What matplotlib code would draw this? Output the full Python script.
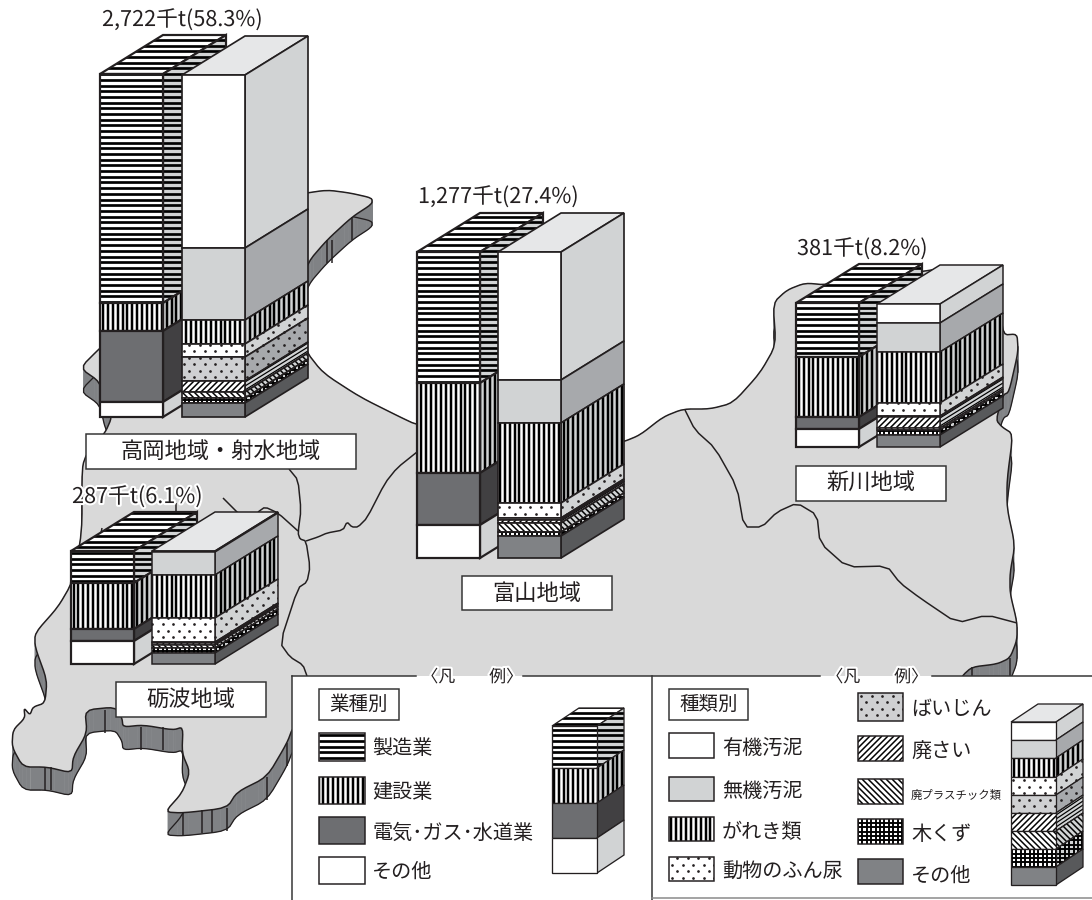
import itertools

import matplotlib
matplotlib.use('Agg')
import matplotlib.pyplot as plt
import matplotlib.patheffects as pe
import numpy as np
from matplotlib.collections import LineCollection, PolyCollection
from matplotlib.patches import Polygon, Rectangle

plt.rcParams['font.family'] = ['Noto Sans CJK JP', 'DejaVu Sans']

# ---- data: segment heights, top segment first ----
industries = ['製造業', '建設業', '電気･ガス･水道業', 'その他']
waste_types = ['有機汚泥', '無機汚泥', 'がれき類', '動物のふん尿', 'ばいじん',
               '廃さい', '廃プラスチック類', '木くず', 'その他']

takaoka_industry = [229, 28, 71, 15]
takaoka_type = [173, 72, 24, 13, 24, 11, 6, 5, 14]
toyama_industry = [131, 90, 52, 33]
toyama_type = [128, 43, 80, 15, 2, 3, 9, 4, 22]
shinkawa_industry = [54, 60, 12, 18]
shinkawa_type = [19, 29, 51, 13, 1, 11, 2, 5, 12]
tonami_industry = [32, 46, 12, 23]
tonami_type = [1, 23, 43, 24, 1, 2, 3, 5, 11]
legend_industry = [42, 35, 35, 35]
legend_type = [18, 18, 19, 18, 18, 18, 18, 18, 18]

region_labels = ['高岡地域・射水地域', '富山地域', '新川地域', '砺波地域']
amount_labels = ['2,722千t(58.3%)', '1,277千t(27.4%)', '381千t(8.2%)', '287千t(6.1%)']

# ---- colours ----
INK = '#231f20'
MAP_TOP = '#d9d9d9'
MAP_SIDE = '#808285'
WHITE = '#ffffff'
LIGHT = '#d1d3d4'
TOP_LIGHT = '#e6e7e8'

# front colour, side colour, front pattern, side pattern
industry_style = [(WHITE, LIGHT, 'h', 'h'), (WHITE, LIGHT, 'v', 'v'),
                  ('#6d6e71', '#414042', None, None), (WHITE, LIGHT, None, None)]
type_style = [(WHITE, LIGHT, None, None), (LIGHT, '#a7a9ac', None, None), (WHITE, LIGHT, 'v', 'v'),
              (WHITE, LIGHT, 'd', 'd'), ('#cfd0d2', '#a7a9ac', 'd', 'd'), (WHITE, LIGHT, '/', '='),
              (WHITE, LIGHT, '\\', '\\'), (WHITE, LIGHT, '#', '#'), ('#808285', '#58595b', None, None)]

PX = 0.72  # points per pixel at dpi 100

fig, ax = plt.subplots(figsize=(10.92, 9), dpi=100)
ax.set_position([0, 0, 1, 1])
ax.set_xlim(0, 1092)
ax.set_ylim(900, 0)
ax.axis('off')

layer = itertools.count(1)


def face(verts, bg, pattern=None, lw=1.5, slope=0.62):
    xs = [v[0] for v in verts]
    ys = [v[1] for v in verts]
    x0, x1, y0, y1 = min(xs), max(xs), min(ys), max(ys)
    poly = Polygon(verts, closed=True, facecolor=bg, edgecolor='none', zorder=next(layer))
    ax.add_patch(poly)
    segs = []
    width = 1
    if pattern == 'h':
        segs = [[(x0, y), (x1, y)] for y in np.arange(np.floor(y0 / 5.7) * 5.7, y1 + 6, 5.7)]
        width = 2.7
    elif pattern == 'v':
        segs = [[(x, y0), (x, y1)] for x in np.arange(np.floor(x0 / 4.9) * 4.9, x1 + 5, 4.9)]
        width = 2.5
    elif pattern in ('/', '\\'):
        h = y1 - y0
        sign = 1 if pattern == '/' else -1
        for x in np.arange(x0 - h - 6, x1 + h + 6, 6.0):
            segs.append([(x, y1), (x + sign * h, y0)])
        width = 1.5
    elif pattern == '=':
        # lines running along the depth of the stack
        run = x1 - x0
        for y in np.arange(y0, y1 + run * slope + 4, 4.0):
            segs.append([(x0, y), (x1, y - run * slope)])
        width = 1.2
    elif pattern == '#':
        segs = [[(x0, y), (x1, y)] for y in np.arange(np.floor(y0 / 4.4) * 4.4, y1 + 5, 4.4)]
        segs += [[(x, y0), (x, y1)] for x in np.arange(np.floor(x0 / 4.4) * 4.4, x1 + 5, 4.4)]
        width = 1.9
    if segs:
        lc = LineCollection(segs, colors='black', linewidths=width * PX, zorder=next(layer))
        ax.add_collection(lc)
        lc.set_clip_path(poly)
    if pattern == 'd':
        px, py = [], []
        for y in np.arange(np.floor(y0 / 6.5) * 6.5, y1 + 7, 6.5):
            row = int(round(y / 6.5))
            for x in np.arange(np.floor(x0 / 10.5) * 10.5 - 5.25, x1 + 11, 10.5):
                px.append(x + (5.25 if row % 2 else 0))
                py.append(y)
        dots, = ax.plot(px, py, ls='none', marker='o', ms=2.7 * PX, mfc='#231f20',
                        mec='none', zorder=next(layer))
        dots.set_clip_path(poly)
    outline = Polygon(verts, closed=True, facecolor='none', edgecolor=INK,
                      linewidth=lw * PX, zorder=next(layer), joinstyle='miter')
    ax.add_patch(outline)


def stack(x, base, width, dx, dy, heights, styles, top_bg, top_pattern=None, lw=1.5):
    y = base - sum(heights)
    face([(x, y), (x + dx, y - dy), (x + width + dx, y - dy), (x + width, y)],
         top_bg, top_pattern, lw)
    for h, (front_bg, side_bg, pat, side_pat) in zip(heights, styles):
        face([(x + width, y), (x + width + dx, y - dy), (x + width + dx, y + h - dy),
              (x + width, y + h)], side_bg, side_pat, lw, slope=dy / dx)
        face([(x, y), (x + width, y), (x + width, y + h), (x, y + h)], front_bg, pat, lw)
        y += h


def chaikin(points, closed=False, passes=2, cut=0.18):
    pts = np.array(points, dtype=float)
    for _ in range(passes):
        if closed:
            a, b = pts, np.roll(pts, -1, axis=0)
        else:
            a, b = pts[:-1], pts[1:]
        q = (1 - cut) * a + cut * b
        r = cut * a + (1 - cut) * b
        new = np.empty((len(q) * 2, 2))
        new[0::2], new[1::2] = q, r
        pts = new if closed else np.vstack([points[0], new, points[-1]])
    return pts


def label_box(x0, x1, y0, y1, text=None, size=16):
    ax.add_patch(Rectangle((x0, y0), x1 - x0, y1 - y0, facecolor=WHITE, edgecolor='#333333',
                           linewidth=1.5 * PX, zorder=next(layer)))
    if text:
        ax.text((x0 + x1) / 2, (y0 + y1) / 2, text, ha='center', va='center', fontsize=size,
                color=INK, zorder=next(layer))


# ---- map of the prefecture (outline only, not data) ----
coast = [(112, 417), (105, 405), (100, 382), (80, 368), (100, 348), (120, 330), (180, 250),
         (300, 194), (327, 190), (350, 193), (372, 198), (372, 204), (352, 217), (327, 240),
         (308, 262), (295, 300), (305, 350), (323, 373), (360, 397), (400, 417), (417, 425),
         (500, 440), (600, 445), (623, 442), (640, 435), (663, 417), (683, 409), (710, 409),
         (733, 403), (760, 373), (776, 345), (773, 303), (787, 290), (805, 283), (827, 285),
         (925, 271), (945, 268), (1000, 300), (1003, 335), (1017, 334), (1018, 348),
         (1017, 357), (1009, 392), (1003, 395), (996, 420), (1002, 427), (1013, 434),
         (1007, 480), (1007, 508), (1015, 545), (1010, 573), (1010, 593), (1017, 622),
         (1017, 640), (1010, 658), (997, 664), (972, 667), (962, 676), (950, 700), (320, 700),
         (293, 727), (287, 743), (267, 777), (237, 792), (227, 808), (183, 813), (165, 812),
         (182, 793), (190, 772), (182, 753), (183, 727), (173, 730), (143, 725), (123, 727),
         (122, 718), (115, 707), (85, 710), (87, 733), (73, 757), (72, 773), (47, 767),
         (23, 767), (12, 747), (13, 730), (25, 718), (24, 708), (30, 715), (33, 707),
         (45, 703), (47, 680), (35, 647), (35, 633), (58, 607), (72, 583), (82, 533),
         (82, 467), (87, 453), (105, 433)]
MAP_DROP = 23

outline = chaikin(coast, closed=True)
nxt = np.roll(outline, -1, axis=0)
drop = np.array([0, MAP_DROP])
ax.add_collection(PolyCollection(
    [[a, b, b + drop, a + drop] for a, b in zip(outline, nxt)],
    facecolors=MAP_SIDE, edgecolors=MAP_SIDE, linewidths=0.4, zorder=next(layer)))
ax.add_patch(Polygon(outline + drop, closed=True, facecolor='none', edgecolor=INK,
                     linewidth=1.3 * PX, zorder=next(layer)))
ax.add_patch(Polygon(outline, closed=True, facecolor=MAP_TOP, edgecolor=INK,
                     linewidth=1.5 * PX, zorder=next(layer)))

# the dark corner lines on the coast wall
wall_lines = [(105, 710), (45, 767), (51, 767), (141, 727), (163, 727), (183, 813), (202, 810),
              (212, 810), (227, 808), (267, 777), (287, 743), (352, 217), (327, 240), (332, 240),
              (972, 667), (1010, 658)]
ax.add_collection(LineCollection([[(x, y), (x, y + MAP_DROP)] for x, y in wall_lines],
                                 colors=INK, linewidths=1.5 * PX, zorder=next(layer)))

borders = [
    [(289, 469), (298, 480), (301, 510), (298, 533), (300, 539), (306, 541), (310, 567),
     (307, 582), (298, 588), (280, 643), (290, 657), (303, 665), (307, 676)],
    [(306, 541), (318, 537), (327, 533), (343, 530), (347, 522), (352, 527), (358, 527),
     (367, 518), (385, 483), (397, 468), (417, 452)],
    [(223, 498), (238, 513)],
    [(258, 512), (265, 507), (278, 513), (298, 531)],
    [(685, 410), (695, 430), (715, 448), (737, 487), (744, 527), (762, 527), (777, 512),
     (797, 503), (817, 515), (820, 543), (847, 567), (887, 566), (900, 583), (920, 598),
     (957, 623), (987, 615), (1017, 623)],
    [(176, 503), (176, 512)],
    [(102, 528), (101, 533)],
]
ax.add_collection(LineCollection([chaikin(b, passes=1) for b in borders], colors=INK,
                                 linewidths=1.5 * PX, zorder=next(layer)))

# ---- the four pairs of stacks ----
W, DX, DY = 63, 63, 39
stack(100, 417, W, DX, DY, takaoka_industry, industry_style, WHITE, 'h', lw=2.2)
stack(182, 417, W, DX, DY, takaoka_type, type_style, TOP_LIGHT, lw=1.7)
label_box(86, 356, 434, 469, region_labels[0])

stack(417, 558, W, DX, DY, toyama_industry, industry_style, WHITE, 'h', lw=2.2)
stack(498, 558, W, DX, DY, toyama_type, type_style, TOP_LIGHT, lw=1.7)
label_box(462, 612, 576, 610, region_labels[1])

stack(796, 447, W, DX, DY, shinkawa_industry, industry_style, WHITE, 'h', lw=2.2)
stack(877, 447, W, DX, DY, shinkawa_type, type_style, TOP_LIGHT, lw=1.5)
label_box(796, 946, 466, 501, region_labels[2])

stack(71, 664, W, DX, DY, tonami_industry, industry_style, WHITE, 'h', lw=2.2)
stack(152, 664, W, DX, DY, tonami_type, type_style, TOP_LIGHT, lw=1.5)
label_box(116, 266, 682, 717, region_labels[3])

halo = [pe.withStroke(linewidth=3, foreground='white')]
amount_pos = [(102, 20), (418, 197), (797, 249), (72, 497)]
for (x, y), text in zip(amount_pos, amount_labels):
    ax.text(x, y, text, ha='left', va='center', fontsize=15.6, color=INK,
            zorder=500000, path_effects=halo)

# ---- legend panels ----
ax.add_patch(Rectangle((292, 676), 800, 224, facecolor=WHITE, edgecolor='none', zorder=next(layer)))
z = next(layer)
ax.plot([292, 292], [676, 900], color='#333333', lw=1.5 * PX, zorder=z)
ax.plot([652, 652], [676, 900], color='#333333', lw=1.5 * PX, zorder=z)
ax.plot([292, 416], [676, 676], color='#333333', lw=1.5 * PX, zorder=z)
ax.plot([523, 820], [676, 676], color='#333333', lw=1.5 * PX, zorder=z)
ax.plot([932, 1092], [676, 676], color='#333333', lw=1.5 * PX, zorder=z)
ax.plot([652, 1092], [898, 898], color='#888888', lw=1.5 * PX, zorder=z)
for cx in (472, 877):
    ax.text(cx, 677, '〈凡　　例〉', ha='center', va='center', fontsize=12.2, color=INK,
            zorder=500000, path_effects=halo)

label_box(319, 399, 689, 720, '業種別', size=14)
label_box(669, 748, 689, 720, '種類別', size=14)


def swatch_row(x0, x1, rows, names, styles, text_x, sizes=None):
    for i, ((y0, y1, ty), name, style) in enumerate(zip(rows, names, styles)):
        face([(x0, y0), (x1, y0), (x1, y1), (x0, y1)], style[0], style[2], lw=1.5)
        ax.text(text_x, ty, name, ha='left', va='center', color=INK, zorder=next(layer),
                fontsize=14.5 if sizes is None else sizes[i])


swatch_row(319, 365, [(733, 761, 749), (777, 804, 792), (817, 844, 833), (857, 884, 872)],
           industries, industry_style, 372)
swatch_row(669, 714, [(733, 758, 749), (777, 801, 792), (817, 841, 833), (857, 881, 871)],
           waste_types[:4], type_style[:4], 722)
swatch_row(858, 903, [(693, 721, 709), (736, 761, 752), (779, 804, 795), (819, 844, 834),
                      (859, 884, 876)],
           waste_types[4:], type_style[4:], 911, sizes=[14.5, 14.5, 8.2, 14.5, 14.5])

stack(552, 873, 45, 27, 18, legend_industry, industry_style, WHITE, 'h', lw=1.3)
stack(1011, 885, 45, 27, 18, legend_type, type_style, TOP_LIGHT, lw=1.3)

plt.savefig('out.png', dpi=100)
plt.close()
